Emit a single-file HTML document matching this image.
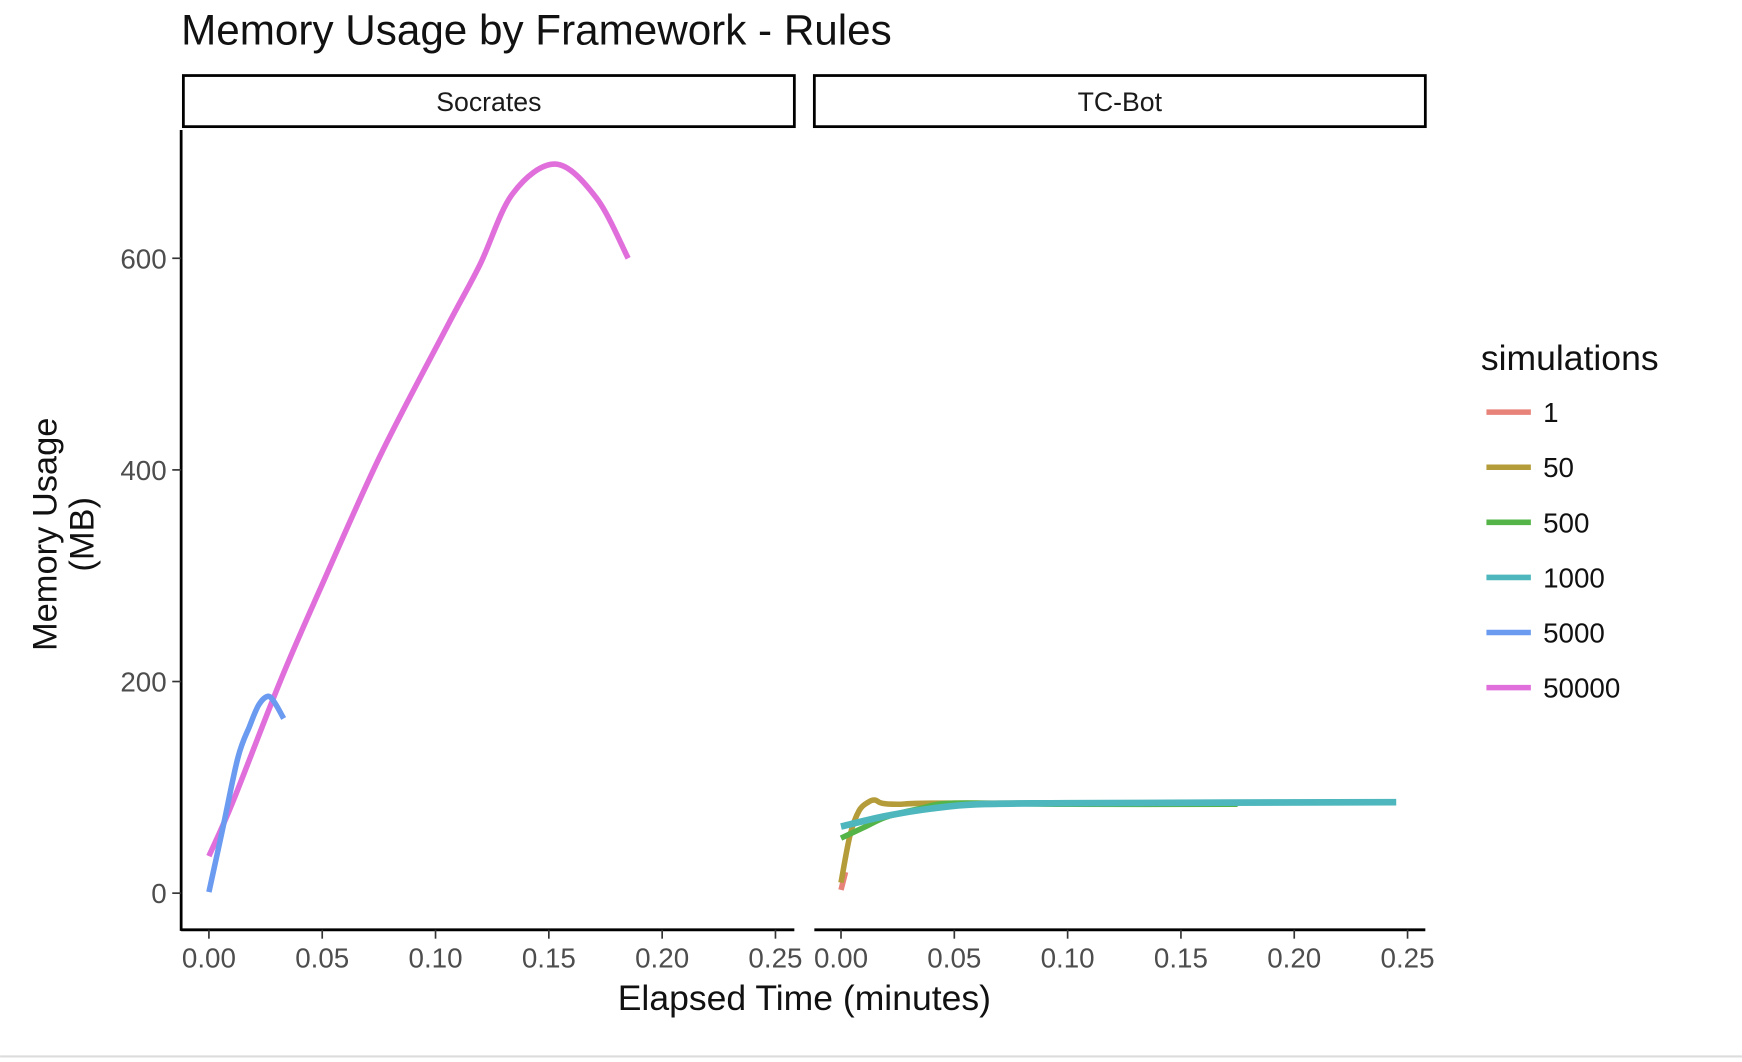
<!DOCTYPE html>
<html><head><meta charset="utf-8"><style>
html,body{margin:0;padding:0;background:#fff;}
svg{display:block;font-family:"Liberation Sans",Arial,sans-serif;}
</style></head><body>
<svg id="chart" width="1742" height="1062" viewBox="0 0 1568 956" xmlns="http://www.w3.org/2000/svg">
<rect width="1568" height="956" fill="#fff"/>
<line x1="0" y1="951" x2="1568" y2="951" stroke="#dcdcdc" stroke-width="2"/>
<text x="163" y="40" font-size="38" fill="#111">Memory Usage by Framework - Rules</text>
<g>
<rect x="165" y="68" width="550" height="46" fill="#fff" stroke="#000" stroke-width="2.5"/>
<text x="440" y="100" font-size="24" text-anchor="middle" fill="#1a1a1a">Socrates</text></g>
<g>
<rect x="733" y="68" width="550" height="46" fill="#fff" stroke="#000" stroke-width="2.5"/>
<text x="1008" y="100" font-size="24" text-anchor="middle" fill="#1a1a1a">TC-Bot</text></g>
<text transform="translate(51,481) rotate(-90)" font-size="31" text-anchor="middle" fill="#111">Memory Usage</text>
<text transform="translate(84,481) rotate(-90)" font-size="31" text-anchor="middle" fill="#111">(MB)</text>
<text x="724" y="909" font-size="32" text-anchor="middle" fill="#111">Elapsed Time (minutes)</text>
<g id="axes"></g>
<g id="series"></g>
<g id="legend">
<text x="1333" y="333" font-size="32" fill="#111">simulations</text>
</g>
</svg>
<script>
const xTicks = [0, 0.05, 0.10, 0.15, 0.20, 0.25];
const xTickLabels = ["0.00","0.05","0.10","0.15","0.20","0.25"];
const yTicks = [0, 200, 400, 600];
const seriesNames = ["1","50","500","1000","5000","50000"];
const seriesColors = ["#E8837A","#B59C3A","#55B447","#4DB7BD","#6B9BF0","#E06FDB"];
// Socrates
const socX_5000 = [0, 0.006, 0.0128, 0.018, 0.022, 0.026, 0.029, 0.033];
const socY_5000 = [1, 60, 128, 158, 178, 186, 180, 165];
const socX_50000 = [0, 0.0107, 0.0314, 0.049, 0.0755, 0.105, 0.1196, 0.134, 0.153, 0.171, 0.185];
const socY_50000 = [35, 87, 200, 287, 413, 535, 594, 661, 689, 657, 600];
// TC-Bot
const tcX_1 = [0, 0.002];
const tcY_1 = [3, 20];
const tcX_50 = [0, 0.004, 0.008, 0.012, 0.015, 0.018, 0.025, 0.04, 0.1, 0.17];
const tcY_50 = [10, 55, 78, 86, 88, 85, 84, 85, 85, 85];
const tcX_500 = [0, 0.01, 0.02, 0.035, 0.05, 0.1, 0.175];
const tcY_500 = [52, 62, 72, 80, 85, 84, 84];
const tcX_1000 = [0, 0.02, 0.04, 0.06, 0.1, 0.245];
const tcY_1000 = [63, 73, 80, 84, 85, 86];

const NS = "http://www.w3.org/2000/svg";
const panels = [{x0:188, label:"socrates", left:163, right:715}, {x0:757, label:"tc-bot", left:733, right:1283}];
function xs(p, v){ return p.x0 + v * 2040; }
function ys(v){ return 804 - v * 0.9525; }
const axes = document.getElementById('axes');
function mk(tag, attrs, parent){ const e=document.createElementNS(NS,tag); for(const k in attrs) e.setAttribute(k,attrs[k]); parent.appendChild(e); return e; }

panels.forEach(p=>{
  const xl = mk('line',{x1:p.left,y1:837,x2:p.right,y2:837,stroke:'#000','stroke-width':2.5},axes);
  
  
  xTicks.forEach((t,i)=>{
    const X = xs(p,t);
    const tk = mk('line',{x1:X,y1:837,x2:X,y2:845,stroke:'#333','stroke-width':1.5},axes);
    
    
    const tl = mk('text',{x:X,y:871,'font-size':25,'text-anchor':'middle',fill:'#4d4d4d'},axes);
    tl.textContent = xTickLabels[i];
    
    
  });
});
const yl = mk('line',{x1:163,y1:117,x2:163,y2:838,stroke:'#000','stroke-width':2.5},axes);


yTicks.forEach(t=>{
  const Y = ys(t);
  const tk = mk('line',{x1:155,y1:Y,x2:163,y2:Y,stroke:'#333','stroke-width':1.5},axes);
  
  
  const tl = mk('text',{x:150,y:Y+9,'font-size':25,'text-anchor':'end',fill:'#4d4d4d'},axes);
  tl.textContent = String(t);
  
  
});

const sg = document.getElementById('series');
function smoothPath(P){
  let d = 'M'+P[0][0].toFixed(1)+','+P[0][1].toFixed(1);
  for(let i=0;i<P.length-1;i++){
    const p0=P[Math.max(0,i-1)], p1=P[i], p2=P[i+1], p3=P[Math.min(P.length-1,i+2)];
    const c1=[p1[0]+(p2[0]-p0[0])/6, p1[1]+(p2[1]-p0[1])/6];
    const c2=[p2[0]-(p3[0]-p1[0])/6, p2[1]-(p3[1]-p1[1])/6];
    d+=' C'+c1[0].toFixed(1)+','+c1[1].toFixed(1)+' '+c2[0].toFixed(1)+','+c2[1].toFixed(1)+' '+p2[0].toFixed(1)+','+p2[1].toFixed(1);
  }
  return d;
}
function draw(p, X, Y, idx, name, w){
  const P = X.map((v,i)=>[xs(p,v), ys(Y[i])]);
  const pl = mk('path',{d:smoothPath(P),fill:'none',stroke:seriesColors[idx],'stroke-width':w,'stroke-linejoin':'round'},sg);
  
  
}
draw(panels[0], socX_50000, socY_50000, 5, 'line-socrates-50000', 5);
draw(panels[0], socX_5000, socY_5000, 4, 'line-socrates-5000', 5);
draw(panels[1], tcX_1, tcY_1, 0, 'line-tcbot-1', 5);
draw(panels[1], tcX_50, tcY_50, 1, 'line-tcbot-50', 5);
draw(panels[1], tcX_500, tcY_500, 2, 'line-tcbot-500', 5);
draw(panels[1], tcX_1000, tcY_1000, 3, 'line-tcbot-1000', 6);

const lg = document.getElementById('legend');
seriesNames.forEach((n,i)=>{
  const y = 371 + i*49.6;
  const k = mk('line',{x1:1338,y1:y,x2:1378,y2:y,stroke:seriesColors[i],'stroke-width':5},lg);
  
  
  const t = mk('text',{x:1389,y:y+9,'font-size':25,fill:'#111'},lg);
  t.textContent = n;
  
  
});
</script>
</body></html>
